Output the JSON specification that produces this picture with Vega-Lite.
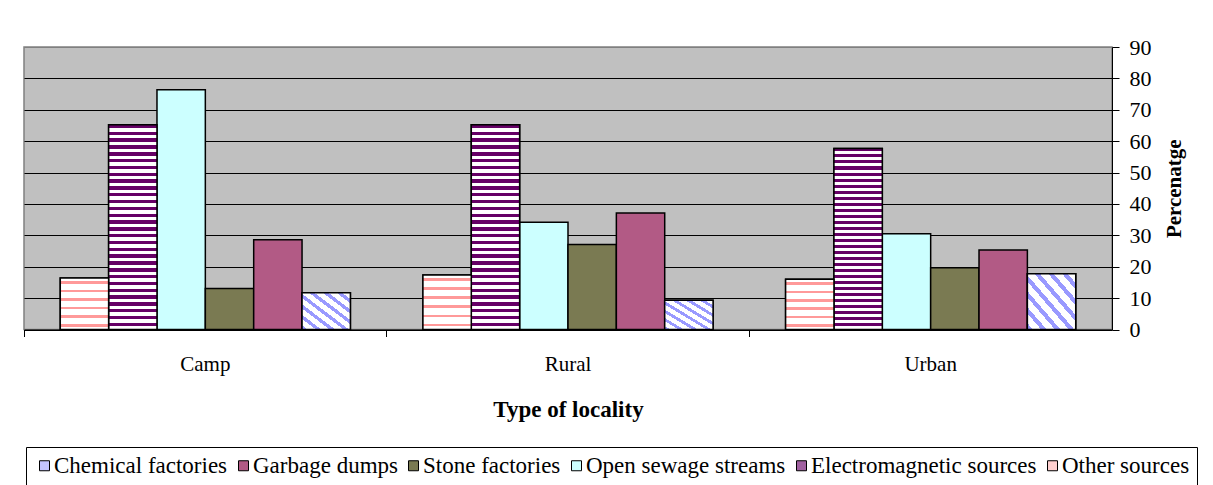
{
  "$schema": "https://vega.github.io/schema/vega-lite/v6.json",
  "width": 1088,
  "height": 282.5,
  "autosize": "none",
  "padding": {"left": 24, "top": 47, "right": 101, "bottom": 155.5},
  "background": "white",
  "config": {
    "view": {"fill": "#C0C0C0", "stroke": "#808080", "strokeWidth": 1.5},
    "font": "Liberation Serif",
    "legend": {"labelFont": "Liberation Serif", "labelFontSize": 23, "labelColor": "black"}
  },
  "data": {
    "values": [
      {"locality": "Camp", "source": "Other sources", "pct": 16.4},
      {"locality": "Camp", "source": "Electromagnetic sources", "pct": 65.2},
      {"locality": "Camp", "source": "Open sewage streams", "pct": 76.4},
      {"locality": "Camp", "source": "Stone factories", "pct": 13.1},
      {"locality": "Camp", "source": "Garbage dumps", "pct": 28.6},
      {"locality": "Camp", "source": "Chemical factories", "pct": 11.7},
      {"locality": "Rural", "source": "Other sources", "pct": 17.4},
      {"locality": "Rural", "source": "Electromagnetic sources", "pct": 65.2},
      {"locality": "Rural", "source": "Open sewage streams", "pct": 34.2},
      {"locality": "Rural", "source": "Stone factories", "pct": 27.1},
      {"locality": "Rural", "source": "Garbage dumps", "pct": 37.1},
      {"locality": "Rural", "source": "Chemical factories", "pct": 9.3},
      {"locality": "Urban", "source": "Other sources", "pct": 16.0},
      {"locality": "Urban", "source": "Electromagnetic sources", "pct": 57.7},
      {"locality": "Urban", "source": "Open sewage streams", "pct": 30.5},
      {"locality": "Urban", "source": "Stone factories", "pct": 19.7},
      {"locality": "Urban", "source": "Garbage dumps", "pct": 25.3},
      {"locality": "Urban", "source": "Chemical factories", "pct": 17.8}
    ]
  },
  "encoding": {
    "x": {
      "field": "locality", "type": "nominal", "sort": ["Camp", "Rural", "Urban"],
      "scale": {"paddingInner": 0, "paddingOuter": 0},
      "axis": {
        "title": "Type of locality", "titleFont": "Liberation Serif", "titleFontWeight": "bold",
        "titleFontSize": 23, "titleColor": "black", "titlePadding": 24,
        "labelAngle": 0, "labelFont": "Liberation Serif", "labelFontSize": 21, "labelColor": "black",
        "labelPadding": 17, "tickSize": 7, "tickColor": "black", "domainColor": "black",
        "bandPosition": 0, "grid": false
      }
    },
    "xOffset": {
      "field": "source", "type": "nominal",
      "sort": ["Other sources", "Electromagnetic sources", "Open sewage streams", "Stone factories", "Garbage dumps", "Chemical factories"],
      "scale": {"paddingInner": 0, "paddingOuter": 0.75}
    },
    "y": {
      "field": "pct", "type": "quantitative",
      "scale": {"domain": [0, 90]},
      "axis": {
        "orient": "right", "values": [0, 10, 20, 30, 40, 50, 60, 70, 80, 90],
        "grid": true, "gridColor": {"condition": {"test": "datum.value === 90", "value": "#808080"}, "value": "black"},
        "gridOpacity": 1, "gridWidth": 1,
        "domainColor": "black", "tickColor": "black", "tickSize": 7, "labelPadding": 10,
        "labelFont": "Liberation Serif", "labelFontSize": 22, "labelColor": "black",
        "title": "Percenatge", "titleAngle": 270, "titleFont": "Liberation Serif", "titleFontWeight": "bold",
        "titleFontSize": 21, "titleColor": "black", "titlePadding": 33
      }
    }
  },
  "layer": [
    {
      "mark": {"type": "bar", "stroke": "black", "strokeWidth": 1.5},
      "encoding": {
        "color": {
          "field": "source", "type": "nominal",
          "scale": {
            "domain": ["Chemical factories", "Garbage dumps", "Stone factories", "Open sewage streams", "Electromagnetic sources", "Other sources"],
            "range": ["#C4C4FF", "#B25A85", "#7A7A52", "#CCFFFF", "#A060A0", "#FFD0D0"]
          },
          "legend": {
            "orient": "none", "legendX": 2, "legendY": 400, "direction": "horizontal", "columns": 6,
            "title": null, "strokeColor": "black", "fillColor": "white", "padding": 7,
            "symbolType": "square", "symbolSize": 100, "symbolStrokeColor": "black", "symbolStrokeWidth": 1,
            "symbolOpacity": 1, "labelFont": "Liberation Serif", "labelFontSize": 23, "labelColor": "black",
            "labelOffset": -2, "columnPadding": 4, "labelLimit": 400
          }
        }
      }
    },
    {
      "transform": [{"filter": "datum.source === 'Chemical factories'"}],
      "mark": {"type": "bar", "stroke": "black", "strokeWidth": 1.5,
        "fill": {"gradient": "linear", "x1": 0, "y1": 1, "x2": 1, "y2": 0, "stops": [
          {"offset": 0, "color": "#9999FF"}, {"offset": 0.0571, "color": "#9999FF"}, {"offset": 0.0571, "color": "#FFFFFF"}, {"offset": 0.1429, "color": "#FFFFFF"},
          {"offset": 0.1429, "color": "#9999FF"}, {"offset": 0.2, "color": "#9999FF"}, {"offset": 0.2, "color": "#FFFFFF"}, {"offset": 0.2857, "color": "#FFFFFF"},
          {"offset": 0.2857, "color": "#9999FF"}, {"offset": 0.3429, "color": "#9999FF"}, {"offset": 0.3429, "color": "#FFFFFF"}, {"offset": 0.4286, "color": "#FFFFFF"},
          {"offset": 0.4286, "color": "#9999FF"}, {"offset": 0.4857, "color": "#9999FF"}, {"offset": 0.4857, "color": "#FFFFFF"}, {"offset": 0.5714, "color": "#FFFFFF"},
          {"offset": 0.5714, "color": "#9999FF"}, {"offset": 0.6286, "color": "#9999FF"}, {"offset": 0.6286, "color": "#FFFFFF"}, {"offset": 0.7143, "color": "#FFFFFF"},
          {"offset": 0.7143, "color": "#9999FF"}, {"offset": 0.7714, "color": "#9999FF"}, {"offset": 0.7714, "color": "#FFFFFF"}, {"offset": 0.8571, "color": "#FFFFFF"},
          {"offset": 0.8571, "color": "#9999FF"}, {"offset": 0.9143, "color": "#9999FF"}, {"offset": 0.9143, "color": "#FFFFFF"}, {"offset": 1, "color": "#FFFFFF"}
        ]}
      }
    },
    {
      "transform": [{"filter": "datum.source === 'Electromagnetic sources'"}],
      "mark": {"type": "bar", "stroke": "black", "strokeWidth": 1.5,
        "fill": {"gradient": "linear", "x1": 0, "y1": 0, "x2": 0, "y2": 1, "stops": [
          {"offset": 0, "color": "#660066"}, {"offset": 0.0167, "color": "#660066"}, {"offset": 0.0167, "color": "#FFFFFF"}, {"offset": 0.0333, "color": "#FFFFFF"},
          {"offset": 0.0333, "color": "#660066"}, {"offset": 0.05, "color": "#660066"}, {"offset": 0.05, "color": "#FFFFFF"}, {"offset": 0.0667, "color": "#FFFFFF"},
          {"offset": 0.0667, "color": "#660066"}, {"offset": 0.0833, "color": "#660066"}, {"offset": 0.0833, "color": "#FFFFFF"}, {"offset": 0.1, "color": "#FFFFFF"},
          {"offset": 0.1, "color": "#660066"}, {"offset": 0.1167, "color": "#660066"}, {"offset": 0.1167, "color": "#FFFFFF"}, {"offset": 0.1333, "color": "#FFFFFF"},
          {"offset": 0.1333, "color": "#660066"}, {"offset": 0.15, "color": "#660066"}, {"offset": 0.15, "color": "#FFFFFF"}, {"offset": 0.1667, "color": "#FFFFFF"},
          {"offset": 0.1667, "color": "#660066"}, {"offset": 0.1833, "color": "#660066"}, {"offset": 0.1833, "color": "#FFFFFF"}, {"offset": 0.2, "color": "#FFFFFF"},
          {"offset": 0.2, "color": "#660066"}, {"offset": 0.2167, "color": "#660066"}, {"offset": 0.2167, "color": "#FFFFFF"}, {"offset": 0.2333, "color": "#FFFFFF"},
          {"offset": 0.2333, "color": "#660066"}, {"offset": 0.25, "color": "#660066"}, {"offset": 0.25, "color": "#FFFFFF"}, {"offset": 0.2667, "color": "#FFFFFF"},
          {"offset": 0.2667, "color": "#660066"}, {"offset": 0.2833, "color": "#660066"}, {"offset": 0.2833, "color": "#FFFFFF"}, {"offset": 0.3, "color": "#FFFFFF"},
          {"offset": 0.3, "color": "#660066"}, {"offset": 0.3167, "color": "#660066"}, {"offset": 0.3167, "color": "#FFFFFF"}, {"offset": 0.3333, "color": "#FFFFFF"},
          {"offset": 0.3333, "color": "#660066"}, {"offset": 0.35, "color": "#660066"}, {"offset": 0.35, "color": "#FFFFFF"}, {"offset": 0.3667, "color": "#FFFFFF"},
          {"offset": 0.3667, "color": "#660066"}, {"offset": 0.3833, "color": "#660066"}, {"offset": 0.3833, "color": "#FFFFFF"}, {"offset": 0.4, "color": "#FFFFFF"},
          {"offset": 0.4, "color": "#660066"}, {"offset": 0.4167, "color": "#660066"}, {"offset": 0.4167, "color": "#FFFFFF"}, {"offset": 0.4333, "color": "#FFFFFF"},
          {"offset": 0.4333, "color": "#660066"}, {"offset": 0.45, "color": "#660066"}, {"offset": 0.45, "color": "#FFFFFF"}, {"offset": 0.4667, "color": "#FFFFFF"},
          {"offset": 0.4667, "color": "#660066"}, {"offset": 0.4833, "color": "#660066"}, {"offset": 0.4833, "color": "#FFFFFF"}, {"offset": 0.5, "color": "#FFFFFF"},
          {"offset": 0.5, "color": "#660066"}, {"offset": 0.5167, "color": "#660066"}, {"offset": 0.5167, "color": "#FFFFFF"}, {"offset": 0.5333, "color": "#FFFFFF"},
          {"offset": 0.5333, "color": "#660066"}, {"offset": 0.55, "color": "#660066"}, {"offset": 0.55, "color": "#FFFFFF"}, {"offset": 0.5667, "color": "#FFFFFF"},
          {"offset": 0.5667, "color": "#660066"}, {"offset": 0.5833, "color": "#660066"}, {"offset": 0.5833, "color": "#FFFFFF"}, {"offset": 0.6, "color": "#FFFFFF"},
          {"offset": 0.6, "color": "#660066"}, {"offset": 0.6167, "color": "#660066"}, {"offset": 0.6167, "color": "#FFFFFF"}, {"offset": 0.6333, "color": "#FFFFFF"},
          {"offset": 0.6333, "color": "#660066"}, {"offset": 0.65, "color": "#660066"}, {"offset": 0.65, "color": "#FFFFFF"}, {"offset": 0.6667, "color": "#FFFFFF"},
          {"offset": 0.6667, "color": "#660066"}, {"offset": 0.6833, "color": "#660066"}, {"offset": 0.6833, "color": "#FFFFFF"}, {"offset": 0.7, "color": "#FFFFFF"},
          {"offset": 0.7, "color": "#660066"}, {"offset": 0.7167, "color": "#660066"}, {"offset": 0.7167, "color": "#FFFFFF"}, {"offset": 0.7333, "color": "#FFFFFF"},
          {"offset": 0.7333, "color": "#660066"}, {"offset": 0.75, "color": "#660066"}, {"offset": 0.75, "color": "#FFFFFF"}, {"offset": 0.7667, "color": "#FFFFFF"},
          {"offset": 0.7667, "color": "#660066"}, {"offset": 0.7833, "color": "#660066"}, {"offset": 0.7833, "color": "#FFFFFF"}, {"offset": 0.8, "color": "#FFFFFF"},
          {"offset": 0.8, "color": "#660066"}, {"offset": 0.8167, "color": "#660066"}, {"offset": 0.8167, "color": "#FFFFFF"}, {"offset": 0.8333, "color": "#FFFFFF"},
          {"offset": 0.8333, "color": "#660066"}, {"offset": 0.85, "color": "#660066"}, {"offset": 0.85, "color": "#FFFFFF"}, {"offset": 0.8667, "color": "#FFFFFF"},
          {"offset": 0.8667, "color": "#660066"}, {"offset": 0.8833, "color": "#660066"}, {"offset": 0.8833, "color": "#FFFFFF"}, {"offset": 0.9, "color": "#FFFFFF"},
          {"offset": 0.9, "color": "#660066"}, {"offset": 0.9167, "color": "#660066"}, {"offset": 0.9167, "color": "#FFFFFF"}, {"offset": 0.9333, "color": "#FFFFFF"},
          {"offset": 0.9333, "color": "#660066"}, {"offset": 0.95, "color": "#660066"}, {"offset": 0.95, "color": "#FFFFFF"}, {"offset": 0.9667, "color": "#FFFFFF"},
          {"offset": 0.9667, "color": "#660066"}, {"offset": 0.9833, "color": "#660066"}, {"offset": 0.9833, "color": "#FFFFFF"}, {"offset": 1, "color": "#FFFFFF"}
        ]}
      }
    },
    {
      "transform": [{"filter": "datum.source === 'Other sources'"}],
      "mark": {"type": "bar", "stroke": "black", "strokeWidth": 1.5,
        "fill": {"gradient": "linear", "x1": 0, "y1": 0, "x2": 0, "y2": 1, "stops": [
          {"offset": 0, "color": "#FFFFFF"}, {"offset": 0.06, "color": "#FFFFFF"}, {"offset": 0.06, "color": "#FF9999"}, {"offset": 0.11, "color": "#FF9999"},
          {"offset": 0.11, "color": "#FFFFFF"}, {"offset": 0.227, "color": "#FFFFFF"}, {"offset": 0.227, "color": "#FF9999"}, {"offset": 0.277, "color": "#FF9999"},
          {"offset": 0.277, "color": "#FFFFFF"}, {"offset": 0.393, "color": "#FFFFFF"}, {"offset": 0.393, "color": "#FF9999"}, {"offset": 0.443, "color": "#FF9999"},
          {"offset": 0.443, "color": "#FFFFFF"}, {"offset": 0.56, "color": "#FFFFFF"}, {"offset": 0.56, "color": "#FF9999"}, {"offset": 0.61, "color": "#FF9999"},
          {"offset": 0.61, "color": "#FFFFFF"}, {"offset": 0.727, "color": "#FFFFFF"}, {"offset": 0.727, "color": "#FF9999"}, {"offset": 0.777, "color": "#FF9999"},
          {"offset": 0.777, "color": "#FFFFFF"}, {"offset": 0.893, "color": "#FFFFFF"}, {"offset": 0.893, "color": "#FF9999"}, {"offset": 0.943, "color": "#FF9999"},
          {"offset": 0.943, "color": "#FFFFFF"}, {"offset": 1, "color": "#FFFFFF"}
        ]}
      }
    }
  ]
}
